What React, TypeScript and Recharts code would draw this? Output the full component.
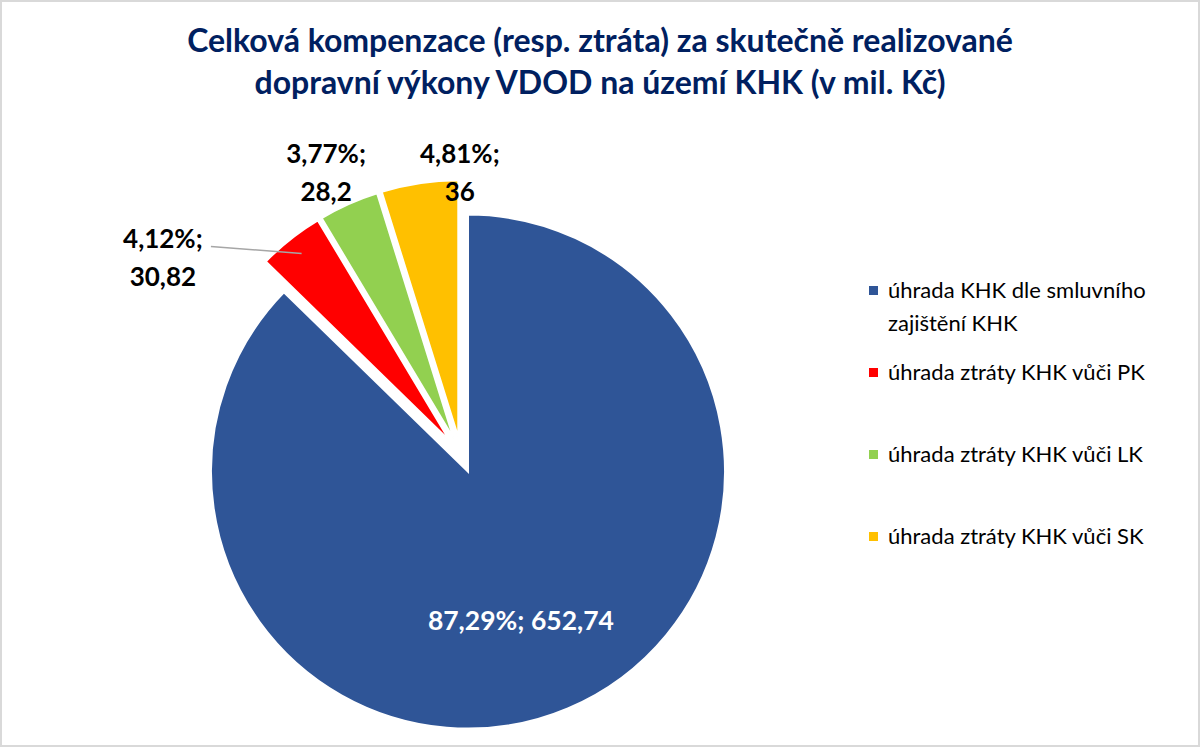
import React from "react";
import { PieChart, Pie, Cell, Sector } from "recharts";

const categories = [
  "úhrada KHK dle smluvního zajištění KHK",
  "úhrada ztráty KHK vůči PK",
  "úhrada ztráty KHK vůči LK",
  "úhrada ztráty KHK vůči SK",
];
const values = [652.74, 30.82, 28.2, 36];
const colors = ["#2F5597", "#FF0000", "#92D050", "#FFC000"];

const titleLines = [
  "Celková kompenzace (resp. ztráta) za skutečně realizované",
  "dopravní výkony VDOD na území KHK (v mil. Kč)",
];

const data = categories.map((name, i) => ({ name, value: values[i] }));

const FONT = "Lato, 'Open Sans', sans-serif";
const RAD = Math.PI / 180;
const EXPLODE = 18;

const polar = (cx: number, cy: number, r: number, angle: number) => ({
  x: cx + r * Math.cos(-angle * RAD),
  y: cy + r * Math.sin(-angle * RAD),
});

const fmt = (v: number) => String(v).replace(".", ",");

// label tweaks so they sit where Excel put them
const labelNudge = [
  { dx: -15, dy: -3 },
  { dx: -104, dy: 39 },
  { dx: -7, dy: -6 },
  { dx: 46, dy: 17 },
];

function ExplodedSector(props: any) {
  const { cx, cy, midAngle } = props;
  const off = polar(0, 0, EXPLODE, midAngle);
  return <Sector {...props} cx={cx + off.x} cy={cy + off.y} />;
}

function renderLabel(props: any) {
  const { cx, cy, midAngle, outerRadius, percent, value, index } = props;
  const pct = (percent * 100).toFixed(2).replace(".", ",") + "%;";
  const nudge = labelNudge[index];

  if (index === 0) {
    const off = polar(0, 0, EXPLODE, midAngle);
    const p = polar(cx + off.x, cy + off.y, outerRadius * 0.68, midAngle);
    return (
      <text
        x={p.x + nudge.dx}
        y={p.y + nudge.dy}
        textAnchor="middle"
        fill="#fff"
        fontFamily={FONT}
        fontWeight={700}
        fontSize={26.5}
      >
        {pct} {fmt(value)}
      </text>
    );
  }

  const p = polar(cx, cy, outerRadius + 56, midAngle);
  const x = p.x + nudge.dx;
  const y = p.y + nudge.dy;
  let leader = null;
  if (index === 1) {
    const off = polar(0, 0, EXPLODE, midAngle);
    const end = polar(cx + off.x, cy + off.y, outerRadius * 0.93, midAngle);
    leader = (
      <line x1={x + 48} y1={y - 2} x2={end.x} y2={end.y} stroke="#A6A6A6" strokeWidth={1.5} />
    );
  }
  return (
    <g>
      {leader}
      <text
        x={x}
        y={y}
        textAnchor="middle"
        fill="#000"
        fontFamily={FONT}
        fontWeight={700}
        fontSize={26}
      >
        <tspan x={x}>{pct}</tspan>
        <tspan x={x} dy={38}>
          {fmt(value)}
        </tspan>
      </text>
    </g>
  );
}

export default function App() {
  return (
    <div
      style={{
        position: "absolute",
        left: 0,
        top: 0,
        width: 1200,
        height: 747,
        boxSizing: "border-box",
        border: "2px solid #D9D9D9",
        background: "#fff",
        fontFamily: FONT,
      }}
    >
      <div
        style={{
          position: "absolute",
          left: 0,
          top: 17,
          width: 1196,
          textAlign: "center",
          color: "#002060",
          fontWeight: 700,
          fontSize: 32,
          lineHeight: "42px",
        }}
      >
        {titleLines.map((t) => (
          <div key={t}>{t}</div>
        ))}
      </div>

      <div style={{ position: "absolute", left: -2, top: -2 }}>
        <PieChart width={1200} height={747} margin={{ top: 0, right: 0, bottom: 0, left: 0 }}>
          <Pie
            data={data}
            dataKey="value"
            nameKey="name"
            cx={461}
            cy={455}
            outerRadius={257}
            startAngle={90}
            endAngle={-270}
            stroke="#fff"
            strokeWidth={2}
            shape={ExplodedSector}
            label={renderLabel}
            labelLine={false}
            isAnimationActive={false}
          >
            {data.map((d, i) => (
              <Cell key={d.name} fill={colors[i]} />
            ))}
          </Pie>
        </PieChart>
      </div>

      <div style={{ position: "absolute", left: 867, top: 271, width: 330 }}>
        {categories.map((c, i) => (
          <div key={c} style={{ height: 82, display: "flex", alignItems: "flex-start" }}>
            <div
              style={{
                width: 9,
                height: 9,
                background: colors[i],
                marginTop: 13,
                marginRight: 10,
                flexShrink: 0,
              }}
            />
            <div style={{ fontSize: 22, lineHeight: "33px", color: "#000", width: 300 }}>{c}</div>
          </div>
        ))}
      </div>
    </div>
  );
}
